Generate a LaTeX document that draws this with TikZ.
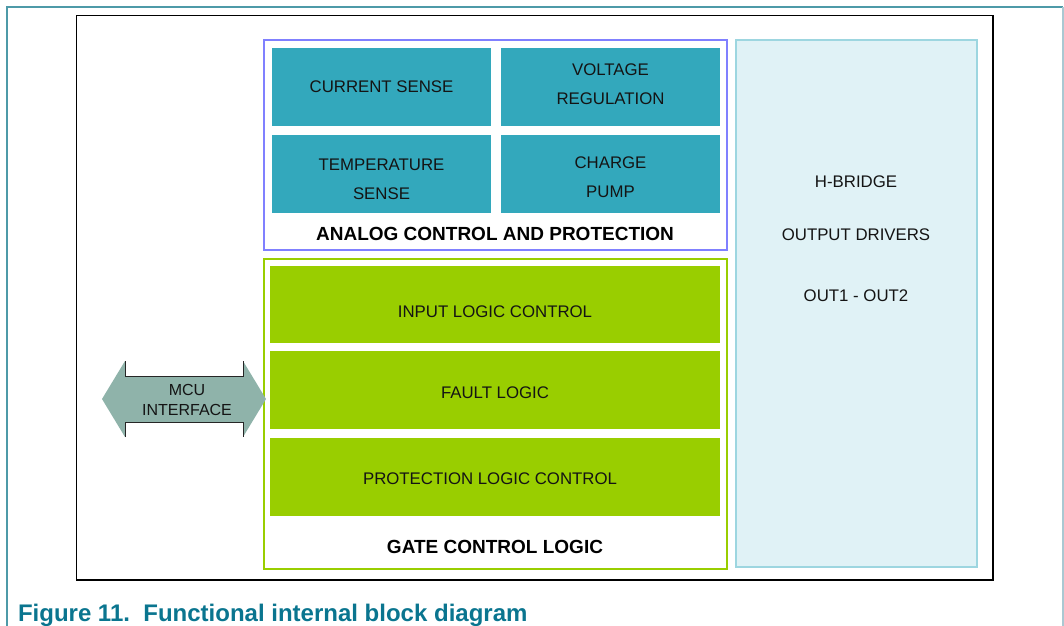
\documentclass[tikz,border=0pt]{standalone}
\usepackage{fontspec}
\setmainfont{Liberation Sans}
\definecolor{cellteal}{RGB}{51,168,188}
\definecolor{anaborder}{RGB}{128,128,255}
\definecolor{lime}{RGB}{153,206,0}
\definecolor{hbfill}{RGB}{224,242,246}
\definecolor{hbborder}{RGB}{157,214,224}
\definecolor{arrowfill}{RGB}{143,179,170}
\definecolor{captioncol}{RGB}{10,117,143}
\definecolor{framecol}{RGB}{78,154,168}
\definecolor{framecolr}{RGB}{170,200,210}
\begin{document}
\begin{tikzpicture}[x=1pt,y=-1pt,
  every node/.style={inner sep=0pt,outer sep=0pt},
  tealcell/.style={fill=cellteal,minimum width=219pt,minimum height=78pt,anchor=north west},
  limecell/.style={fill=lime,minimum width=450pt,anchor=north west},
  celltext/.style={font=\fontsize{16.8}{29}\selectfont,align=center,text=black!92},
  boldlabel/.style={font=\fontsize{19}{22}\selectfont\bfseries,text=black},
  plainlabel/.style={font=\fontsize{16.8}{20}\selectfont,text=black!92},
]
\useasboundingbox (0,0) rectangle (1064,625);
% outer page frame
\draw[framecol,line width=1.5pt] (7,630) -- (7,7) -- (1063,7);
\draw[framecolr,line width=1.5pt] (1063,7) -- (1063,630);
% black box
\node[draw=black,line width=1.5pt,minimum width=916.5pt,minimum height=564.5pt,anchor=north west] (frame) at (76.5,15.5) {};
% analog block
\node[draw=anaborder,line width=2pt,minimum width=463pt,minimum height=210pt,anchor=north west] (analog) at (264,40) {};
\node[tealcell] (cur) at (272,48) {};
\node[tealcell] (volt) at (501,48) {};
\node[tealcell] (temp) at (272,135) {};
\node[tealcell] (chg) at (501,135) {};
\node[celltext] (curt) at (cur.center) {CURRENT SENSE};
\node[celltext] (voltt) at ([yshift=3pt]volt.center) {VOLTAGE\\REGULATION};
\node[celltext] (tempt) at ([yshift=-5pt]temp.center) {TEMPERATURE\\SENSE};
\node[celltext] (chgt) at ([yshift=-3pt]chg.center) {CHARGE\\PUMP};
\node[boldlabel] (analogl) at (495,234) {ANALOG CONTROL AND PROTECTION};
% gate block
\node[draw=lime,line width=2pt,minimum width=463pt,minimum height=310pt,anchor=north west] (gate) at (264,259) {};
\node[limecell,minimum height=77pt] (inlog) at (270,266) {};
\node[limecell,minimum height=78pt] (fault) at (270,351) {};
\node[limecell,minimum height=78pt] (prot) at (270,438) {};
\node[celltext] (inlogt) at ([yshift=-7pt]inlog.center) {INPUT LOGIC CONTROL};
\node[celltext] (faultt) at ([yshift=-3pt]fault.center) {FAULT LOGIC};
\node[celltext] (prott) at ([xshift=-5pt,yshift=-2pt]prot.center) {PROTECTION LOGIC CONTROL};
\node[boldlabel] (gatel) at (495,547) {GATE CONTROL LOGIC};
% h-bridge
\node[draw=hbborder,fill=hbfill,line width=2pt,minimum width=241pt,minimum height=527pt,anchor=north west] (hb) at (736,40) {};
\node[plainlabel] (hb1) at (856,182) {H-BRIDGE};
\node[plainlabel] (hb2) at (856,235) {OUTPUT DRIVERS};
\node[plainlabel] (hb3) at (856,296) {OUT1 - OUT2};
% MCU interface double arrow
\coordinate (ltip) at (102,399);
\coordinate (rtip) at (266,399);
\fill[arrowfill] (ltip) -- (125,361) -- (125,376) -- (243,376) -- (243,361) -- (rtip) -- (243,437) -- (243,422) -- (125,422) -- (125,437) -- cycle;
\draw[black!85,line width=1pt] (125,361) -- (125,376) -- (243,376) -- (243,361);
\draw[black!85,line width=1pt] (125,437) -- (125,422) -- (243,422) -- (243,437);
\node[font=\fontsize{16}{20}\selectfont,align=center,text=black!92] (mcu) at (187,400) {MCU\\INTERFACE};
% caption
\node[anchor=base west,font=\fontsize{24}{28}\selectfont\bfseries,text=captioncol] (cap) at (18,621) {Figure 11.\ \ Functional internal block diagram};
\end{tikzpicture}
\end{document}
